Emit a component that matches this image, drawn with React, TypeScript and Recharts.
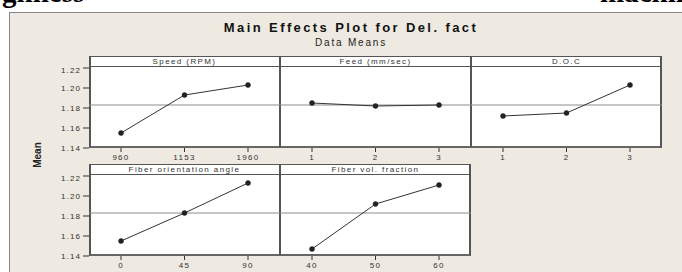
import React from "react";
import { LineChart, Line, XAxis, YAxis, ReferenceLine } from "recharts";

// factor levels and their means (Del. fact)
const speedLevels = ["960", "1153", "1960"];
const speedMeans = [1.155, 1.193, 1.203];
const feedLevels = ["1", "2", "3"];
const feedMeans = [1.185, 1.182, 1.183];
const docLevels = ["1", "2", "3"];
const docMeans = [1.172, 1.175, 1.203];
const angleLevels = ["0", "45", "90"];
const angleMeans = [1.155, 1.183, 1.213];
const volLevels = ["40", "50", "60"];
const volMeans = [1.147, 1.192, 1.211];

const grandMean = 1.183;
const yTicks = [1.14, 1.16, 1.18, 1.2, 1.22];
const yDomain = [1.14, 1.222];

const FONT = "'Liberation Sans', Arial, sans-serif";
const INK = "#333";

const COL_LEFT = [89, 280, 471];
const ROW_TOP = [56, 164];
const PANEL_W = 191;
const HEAD_H = 10;
const PLOT_H = 82;
const YAXIS_W = 45;
const X_PAD = 32;

const panels = [
  { title: "Speed (RPM)", levels: speedLevels, means: speedMeans, col: 0, row: 0 },
  { title: "Feed (mm/sec)", levels: feedLevels, means: feedMeans, col: 1, row: 0 },
  { title: "D.O.C", levels: docLevels, means: docMeans, col: 2, row: 0 },
  { title: "Fiber orientation angle", levels: angleLevels, means: angleMeans, col: 0, row: 1 },
  { title: "Fiber vol. fraction", levels: volLevels, means: volMeans, col: 1, row: 1 },
];

function Panel({ title, levels, means, col, row }: any) {
  const left = COL_LEFT[col];
  const top = ROW_TOP[row];
  const data = levels.map((l: string, i: number) => ({ level: l, mean: means[i] }));
  const showY = col === 0;
  const chartLeft = showY ? left - YAXIS_W : left;
  const chartW = showY ? PANEL_W + YAXIS_W : PANEL_W;
  const rightEdge = col === 2 || (row === 1 && col === 1);
  return (
    <>
      <div
        style={{
          position: "absolute",
          left,
          top,
          width: PANEL_W,
          height: HEAD_H + PLOT_H,
          boxSizing: "border-box",
          background: "#fff",
          borderTop: "1px solid #555",
          borderLeft: `${col === 0 ? 2 : 1}px solid #555`,
          borderRight: `${rightEdge ? 2 : 1}px solid #555`,
          borderBottom: "2px solid #666",
        }}
      />
      <div
        style={{
          position: "absolute",
          left,
          top: top + HEAD_H,
          width: PANEL_W,
          height: 1,
          background: "#555",
        }}
      />
      <div
        style={{
          position: "absolute",
          left,
          top: top + 1,
          width: PANEL_W,
          height: HEAD_H - 1,
          lineHeight: `${HEAD_H - 1}px`,
          textAlign: "center",
          fontFamily: FONT,
          fontSize: 8,
          letterSpacing: 1.4,
          color: INK,
        }}
      >
        {title}
      </div>
      <div style={{ position: "absolute", left: chartLeft, top: top + HEAD_H }}>
        <LineChart
          width={chartW}
          height={PLOT_H + 20}
          data={data}
          margin={{ top: 0, right: 0, bottom: 0, left: 0 }}
        >
          <XAxis
            dataKey="level"
            axisLine={false}
            padding={{ left: X_PAD, right: X_PAD }}
            tickSize={4}
            tickLine={{ stroke: INK }}
            tick={{ fontSize: 8, fill: INK, fontFamily: FONT, letterSpacing: 1.3 }}
            interval={0}
            height={20}
          />
          <YAxis
            hide={!showY}
            width={YAXIS_W}
            domain={yDomain}
            ticks={yTicks}
            allowDataOverflow
            axisLine={false}
            tickSize={6}
            tickLine={{ stroke: INK }}
            tickFormatter={(v: number) => v.toFixed(2)}
            tick={{ fontSize: 8, fill: INK, fontFamily: FONT, letterSpacing: 1.1 }}
          />
          <ReferenceLine y={grandMean} stroke="#8c8c8c" strokeWidth={1} />
          <Line
            dataKey="mean"
            stroke="#333"
            strokeWidth={1}
            dot={{ r: 2.5, fill: "#222", stroke: "#222", strokeWidth: 0.5 }}
            isAnimationActive={false}
          />
        </LineChart>
      </div>
    </>
  );
}

export default function App() {
  return (
    <div
      style={{
        position: "absolute",
        left: 0,
        top: 0,
        width: 682,
        height: 272,
        overflow: "hidden",
        background: "#fff",
      }}
    >
      <div
        style={{
          position: "absolute",
          left: 9,
          top: 12,
          width: 700,
          height: 300,
          background: "#eeeae1",
          borderLeft: "1px solid #888",
          borderTop: "1px solid #888",
        }}
      />
      <div
        style={{
          position: "absolute",
          left: 2,
          top: -28,
          fontFamily: "'Liberation Serif', 'Times New Roman', serif",
          fontWeight: "bold",
          fontSize: 29,
          lineHeight: "40px",
          color: "#000",
          whiteSpace: "nowrap",
        }}
      >
        ghness
      </div>
      <div
        style={{
          position: "absolute",
          left: 600,
          top: -28,
          fontFamily: "'Liberation Serif', 'Times New Roman', serif",
          fontWeight: "bold",
          fontSize: 29,
          lineHeight: "40px",
          color: "#000",
          whiteSpace: "nowrap",
        }}
      >
        machining
      </div>
      <div
        style={{
          position: "absolute",
          left: 150,
          width: 402,
          top: 21,
          textAlign: "center",
          fontFamily: FONT,
          fontWeight: "bold",
          fontSize: 13,
          letterSpacing: 2.4,
          color: "#111",
          lineHeight: "14px",
        }}
      >
        Main Effects Plot for Del. fact
      </div>
      <div
        style={{
          position: "absolute",
          left: 150,
          width: 402,
          top: 37,
          textAlign: "center",
          fontFamily: FONT,
          fontSize: 10,
          letterSpacing: 1.8,
          color: "#222",
          lineHeight: "11px",
        }}
      >
        Data Means
      </div>
      <div
        style={{
          position: "absolute",
          left: 37,
          top: 155,
          transform: "translate(-50%, -50%) rotate(-90deg)",
          fontFamily: FONT,
          fontWeight: "bold",
          fontSize: 10,
          color: "#222",
          whiteSpace: "nowrap",
        }}
      >
        Mean
      </div>
      {panels.map((p) => (
        <Panel key={p.title} {...p} />
      ))}
    </div>
  );
}
